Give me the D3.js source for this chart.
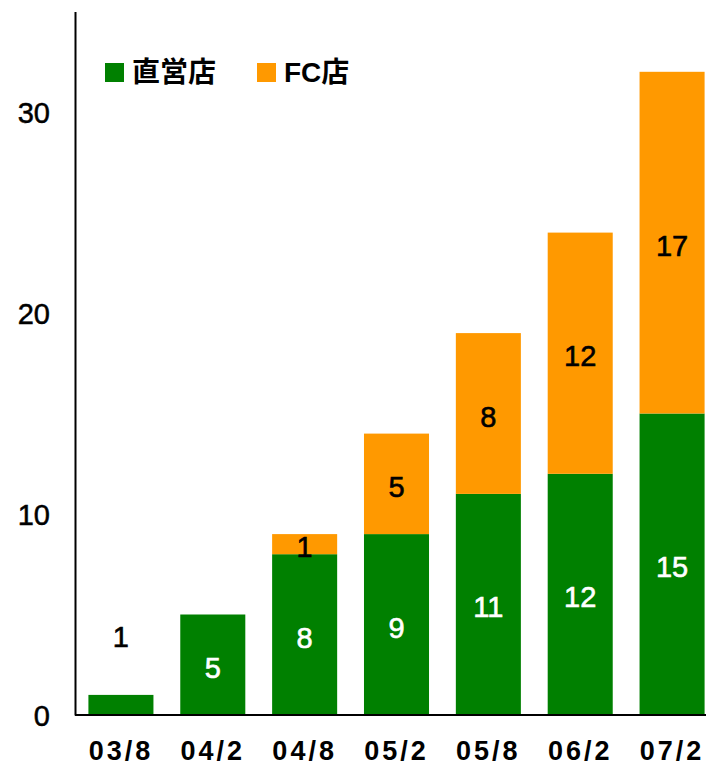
<!DOCTYPE html>
<html><head><meta charset="utf-8">
<script src="https://cdn.jsdelivr.net/npm/d3@7"></script>
<style>html,body{margin:0;padding:0;background:#fff;}svg{display:block;}</style>
</head><body>
<script>
const categories = ["03/8","04/2","04/8","05/2","05/8","06/2","07/2"];
const directStores = [1,5,8,9,11,12,15];
const fcStores = [0,0,1,5,8,12,17];
const seriesNames = ["直営店","FC店"];
const yTicks = [0,10,20,30];

const W = 706, H = 767;
const FONT = "Liberation Sans, Arial, sans-serif";
const svg = d3.select("body").append("svg").attr("width", W).attr("height", H);
const colors = ["#008000", "#FF9900"];
const x = d3.scaleBand().domain(categories).range([75, 718]).paddingInner(0.292).paddingOuter(0.146);
const y = d3.scaleLinear().domain([0, 35]).range([715, 11.5]);

const rows = categories.map((c, i) => ({cat: c, d: directStores[i], f: fcStores[i]}));
const stack = d3.stack().keys(["d", "f"])(rows);

const g = svg.append("g");
stack.forEach((layer, li) => {
  g.selectAll(null).data(layer.filter(p => p[1] - p[0] > 0)).enter().append("rect")
    .attr("x", p => x(p.data.cat))
    .attr("width", x.bandwidth())
    .attr("y", p => y(p[1]))
    .attr("height", p => y(p[0]) - y(p[1]))
    .attr("fill", colors[li]);
});

// labels
stack.forEach((layer, li) => {
  layer.forEach(p => {
    const v = p[1] - p[0];
    if (v <= 0) return;
    let cy = (y(p[0]) + y(p[1])) / 2 + 3;
    let fill = li === 0 ? "#fff" : "#000";
    if (li === 0 && v < 2) { cy = y(p[1]) - 58; fill = "#000"; }
    g.append("text")
      .attr("x", x(p.data.cat) + x.bandwidth() / 2)
      .attr("y", cy)
      .attr("text-anchor", "middle")
      .attr("dominant-baseline", "central")
      .attr("font-family", FONT)
      .attr("font-size", 29)
      .attr("fill", fill)
      .attr("stroke", fill)
      .attr("stroke-width", 0.6)
      .text(v);
  });
});

// axes
const yAxis = d3.axisLeft(y).tickValues(yTicks).tickSize(0).tickPadding(25);
const ya = svg.append("g").attr("transform", "translate(75,0)").call(yAxis);
ya.select(".domain").attr("stroke", "#000").attr("stroke-width", 2);
ya.selectAll("text").attr("font-family", FONT).attr("font-size", 29).attr("fill", "#000")
  .attr("stroke", "#000").attr("stroke-width", 0.5).attr("dy", "0.36em");

const xAxis = d3.axisBottom(x).tickSize(0).tickPadding(26);
const xa = svg.append("g").attr("transform", "translate(0,715)").call(xAxis);
xa.select(".domain").attr("stroke", "#000").attr("stroke-width", 2).attr("d", "M75,0H706");
xa.selectAll("text").attr("font-family", FONT).attr("font-size", 27)
  .attr("font-weight", "bold").attr("letter-spacing", "3px").attr("fill", "#000");

// legend
const legend = svg.append("g");
const legX = [105, 257];
seriesNames.forEach((n, i) => {
  legend.append("rect").attr("x", legX[i]).attr("y", 63).attr("width", 19).attr("height", 19).attr("fill", colors[i]);
  legend.append("text").attr("x", legX[i] + 27).attr("y", 72.5)
    .attr("dominant-baseline", "central")
    .attr("font-family", "Liberation Sans, Noto Sans CJK JP, sans-serif")
    .attr("font-size", 28).attr("font-weight", "bold").attr("fill", "#000").text(n);
});
</script>
</body></html>
